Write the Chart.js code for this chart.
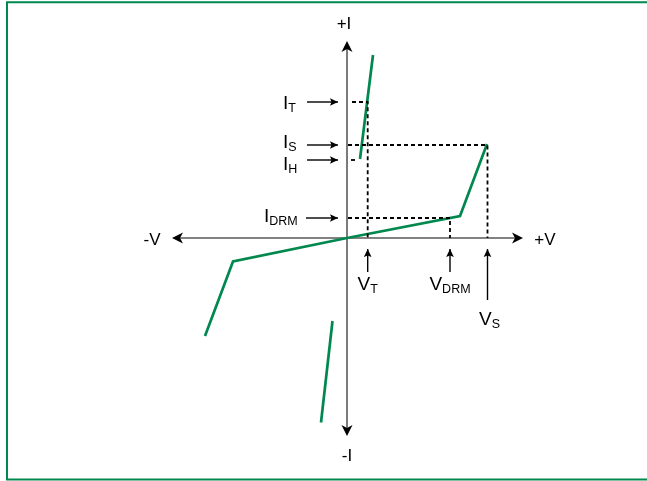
<!DOCTYPE html>
<html>
<head>
<meta charset="utf-8">
<title>Thyristor V-I characteristic</title>
<script src="https://cdn.jsdelivr.net/npm/chart.js@4.4.1/dist/chart.umd.min.js"></script>
<style>
  html, body { margin: 0; padding: 0; background: #fff; overflow: hidden; }
  #wrap { width: 647px; height: 481px; }
</style>
</head>
<body>
<div id="wrap"><canvas id="vi-chart" width="647" height="481"></canvas></div>
<script>
// Curve values (arbitrary units, origin at the axis crossing)
const mainCurveV = [-14.2, -11.4, 0, 11.3, 14.0];
const mainCurveI = [-9.8, -2.35, 0, 2.2, 9.4];
const onStateV = [1.3, 2.6];
const onStateI = [7.9, 18.3];
const reverseOnV = [-1.45, -2.6];
const reverseOnI = [-8.3, -18.45];

// Marked levels
const currentNames = ['T', 'S', 'H', 'DRM'];
const currentLevels = [13.6, 9.3, 7.8, 2.0];
const currentDashStart = [0.5, 0.1, 0.4, 0.1];
const currentDashEnd = [2.07, 14.05, 1.0, 10.3];

const voltageNames = ['T', 'DRM', 'S'];
const voltageLevels = [2.07, 10.3, 14.05];

// Axis ends
const axisV = [-17.5, 17.6];
const axisI = [-19.8, 19.7];

const GREEN = '#00884f';
const FONT = '"Liberation Sans", Arial, Helvetica, sans-serif';

function pts(xs, ys) {
  return xs.map((x, i) => ({ x, y: ys[i] }));
}

// dashed guide lines: horizontal from the I axis, then down to the V axis
const dashSets = currentNames.map((name, i) => {
  const data = [
    { x: currentDashStart[i], y: currentLevels[i] },
    { x: currentDashEnd[i], y: currentLevels[i] }
  ];
  const vi = voltageLevels.indexOf(currentDashEnd[i]);
  if (vi >= 0) data.push({ x: voltageLevels[vi], y: 0 });
  return {
    label: 'I' + name,
    data,
    showLine: true,
    borderColor: '#000',
    borderWidth: 1.8,
    borderDash: [4, 3],
    pointRadius: 0,
    fill: false
  };
});

function greenSet(label, data) {
  return {
    label,
    data,
    showLine: true,
    borderColor: GREEN,
    borderWidth: 2.7,
    pointRadius: 0,
    fill: false,
    tension: 0
  };
}

function arrowHead(ctx, x, y, angle, len, half, notch) {
  ctx.save();
  ctx.translate(x, y);
  ctx.rotate(angle);
  ctx.beginPath();
  ctx.moveTo(0, 0);
  ctx.lineTo(-len, -half);
  ctx.lineTo(-len + notch, 0);
  ctx.lineTo(-len, half);
  ctx.closePath();
  ctx.fill();
  ctx.restore();
}

function arrow(ctx, x1, y1, x2, y2) {
  ctx.beginPath();
  ctx.moveTo(x1, y1);
  ctx.lineTo(x2, y2);
  ctx.stroke();
  arrowHead(ctx, x2, y2, Math.atan2(y2 - y1, x2 - x1), 8, 3.8, 1.5);
}

// main letter + subscript; align 'left' or 'center'
function subLabel(ctx, main, sub, x, baseline, align) {
  ctx.font = '19px ' + FONT;
  const w1 = ctx.measureText(main).width;
  ctx.font = '12.5px ' + FONT;
  const w2 = ctx.measureText(sub).width;
  const left = align === 'center' ? x - (w1 + w2) / 2 : x;
  ctx.textAlign = 'left';
  ctx.textBaseline = 'alphabetic';
  ctx.font = '19px ' + FONT;
  ctx.fillText(main, left, baseline);
  ctx.font = '12.5px ' + FONT;
  ctx.fillText(sub, left + w1, baseline + 3);
}

const axesPlugin = {
  id: 'viAxes',
  beforeDatasetsDraw(chart) {
    const { ctx } = chart;
    const xs = chart.scales.x, ys = chart.scales.y;
    const x0 = xs.getPixelForValue(0), y0 = ys.getPixelForValue(0);

    // frame
    ctx.save();
    ctx.strokeStyle = GREEN;
    ctx.lineWidth = 2;
    ctx.beginPath();
    ctx.moveTo(chart.width, 2.3);
    ctx.lineTo(7, 2.3);
    ctx.lineTo(7, 479.6);
    ctx.lineTo(chart.width, 479.6);
    ctx.stroke();

    // axes
    const xl = xs.getPixelForValue(axisV[0]), xr = xs.getPixelForValue(axisV[1]);
    const yb = ys.getPixelForValue(axisI[0]), yt = ys.getPixelForValue(axisI[1]);
    ctx.strokeStyle = '#5a5a5a';
    ctx.lineWidth = 1.6;
    ctx.beginPath();
    ctx.moveTo(xl + 6, y0); ctx.lineTo(xr - 6, y0);
    ctx.moveTo(x0, yt + 6); ctx.lineTo(x0, yb - 6);
    ctx.stroke();
    ctx.fillStyle = '#000';
    arrowHead(ctx, xr, y0, 0, 11, 5.5, 3);
    arrowHead(ctx, xl, y0, Math.PI, 11, 5.5, 3);
    arrowHead(ctx, x0, yt, -Math.PI / 2, 11, 5.5, 3);
    arrowHead(ctx, x0, yb, Math.PI / 2, 11, 5.5, 3);
    ctx.restore();
  },
  afterDraw(chart) {
    const { ctx } = chart;
    const xs = chart.scales.x, ys = chart.scales.y;
    const x0 = xs.getPixelForValue(0), y0 = ys.getPixelForValue(0);

    ctx.save();
    ctx.fillStyle = '#000';
    ctx.strokeStyle = '#000';
    ctx.lineWidth = 1.4;

    // axis names
    ctx.font = '17px ' + FONT;
    ctx.textAlign = 'center';
    ctx.textBaseline = 'alphabetic';
    ctx.fillText('+I', x0 - 3, ys.getPixelForValue(axisI[1]) - 12);
    ctx.fillText('-I', x0, ys.getPixelForValue(axisI[0]) + 25);
    ctx.fillText('-V', xs.getPixelForValue(axisV[0]) - 20, y0 + 7);
    ctx.fillText('+V', xs.getPixelForValue(axisV[1]) + 22, y0 + 7);

    // current labels with arrows pointing at the I axis
    const labelNudge = [7.3, 3, 10, 4];
    currentNames.forEach((name, i) => {
      const y = ys.getPixelForValue(currentLevels[i]);
      const isDrm = name === 'DRM';
      arrow(ctx, x0 - (isDrm ? 41 : 40), y, x0 - 9, y);
      subLabel(ctx, 'I', name, x0 - (isDrm ? 83 : 64), y + labelNudge[i], 'left');
    });

    // voltage labels with arrows pointing at the V axis
    const arrowLen = [23, 23, 51];
    const textDrop = [52, 52, 87];
    voltageNames.forEach((name, i) => {
      const x = xs.getPixelForValue(voltageLevels[i]);
      arrow(ctx, x, y0 + 11 + arrowLen[i], x, y0 + 11);
      subLabel(ctx, 'V', name, x + (name === 'S' ? 2 : 0), y0 + textDrop[i], 'center');
    });
    ctx.restore();
  }
};

new Chart(document.getElementById('vi-chart'), {
  type: 'scatter',
  data: {
    datasets: [
      ...dashSets,
      greenSet('Blocking / breakover', pts(mainCurveV, mainCurveI)),
      greenSet('On state', pts(onStateV, onStateI)),
      greenSet('Reverse on state', pts(reverseOnV, reverseOnI))
    ]
  },
  options: {
    responsive: false,
    animation: false,
    layout: { padding: 0 },
    plugins: {
      legend: { display: false },
      tooltip: { enabled: false }
    },
    scales: {
      x: { type: 'linear', min: -34.7, max: 30.0, display: false },
      y: { type: 'linear', min: -24.3, max: 23.8, display: false }
    }
  },
  plugins: [axesPlugin]
});
</script>
</body>
</html>
